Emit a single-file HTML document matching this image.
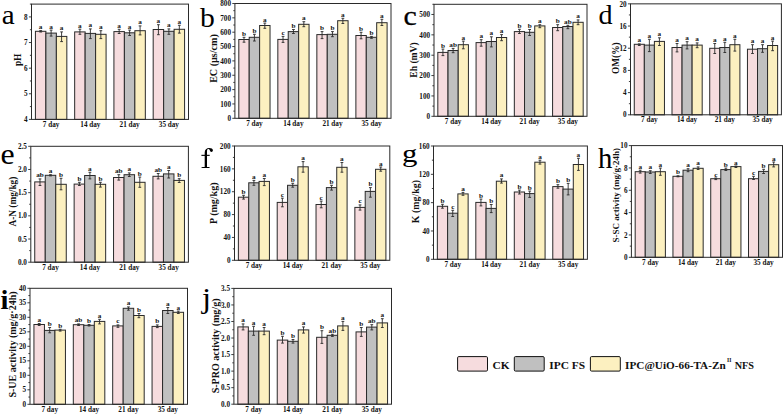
<!DOCTYPE html>
<html><head><meta charset="utf-8"><title>Soil properties bar charts</title>
<style>
*{margin:0;padding:0}
html,body{width:784px;height:415px;background:#fff;overflow:hidden}
svg{display:block;position:absolute;left:0;top:0}
text{font-family:'Liberation Serif', serif;fill:#111}
.tk{font-size:7.2px;font-weight:bold;text-anchor:end}
.xl{font-size:7.2px;font-weight:bold;text-anchor:middle}
.ti{font-size:9.6px;font-weight:bold;text-anchor:middle}
.lt{font-size:7.2px;font-weight:bold;text-anchor:middle}
.pl{font-size:100px;fill:#000}
.pl.b{font-weight:bold}
.lg{font-size:11.4px;font-weight:bold}
</style></head>
<body>
<svg width="784" height="415" viewBox="0 0 784 415">
<rect x="35.42" y="31.3" width="10.47" height="88.1" fill="#f6dcde" stroke="#2a2a2a" stroke-width="1"/>
<path d="M40.66 30.6V32M39.26 30.6h2.8M39.26 32h2.8" stroke="#2a2a2a" stroke-width="0.9" fill="none"/>
<text class="lt" transform="translate(40.66 29.1) scale(1 0.93)">a</text>
<rect x="45.89" y="33.1" width="10.47" height="86.3" fill="#c0c0c0" stroke="#2a2a2a" stroke-width="1"/>
<path d="M51.12 30.1V36.1M49.73 30.1h2.8M49.73 36.1h2.8" stroke="#2a2a2a" stroke-width="0.9" fill="none"/>
<text class="lt" transform="translate(51.12 28.6) scale(1 0.93)">a</text>
<rect x="56.36" y="36.4" width="10.47" height="83" fill="#fcf0c0" stroke="#2a2a2a" stroke-width="1"/>
<path d="M61.59 31.9V41.6M60.19 31.9h2.8M60.19 41.6h2.8" stroke="#2a2a2a" stroke-width="0.9" fill="none"/>
<text class="lt" transform="translate(61.59 30.4) scale(1 0.93)">a</text>
<text class="xl" transform="translate(51.12 126.9) scale(1 1.07)">7 day</text>
<rect x="74.67" y="31.9" width="10.47" height="87.5" fill="#f6dcde" stroke="#2a2a2a" stroke-width="1"/>
<path d="M79.91 29.2V34.3M78.51 29.2h2.8M78.51 34.3h2.8" stroke="#2a2a2a" stroke-width="0.9" fill="none"/>
<text class="lt" transform="translate(79.91 27.7) scale(1 0.93)">a</text>
<rect x="85.14" y="33.4" width="10.47" height="86" fill="#c0c0c0" stroke="#2a2a2a" stroke-width="1"/>
<path d="M90.38 28.9V38.6M88.97 28.9h2.8M88.97 38.6h2.8" stroke="#2a2a2a" stroke-width="0.9" fill="none"/>
<text class="lt" transform="translate(90.38 27.4) scale(1 0.93)">a</text>
<rect x="95.61" y="34.3" width="10.47" height="85.1" fill="#fcf0c0" stroke="#2a2a2a" stroke-width="1"/>
<path d="M100.84 30.7V38.6M99.44 30.7h2.8M99.44 38.6h2.8" stroke="#2a2a2a" stroke-width="0.9" fill="none"/>
<text class="lt" transform="translate(100.84 29.2) scale(1 0.93)">a</text>
<text class="xl" transform="translate(90.38 126.9) scale(1 1.07)">14 day</text>
<rect x="113.92" y="31.6" width="10.47" height="87.8" fill="#f6dcde" stroke="#2a2a2a" stroke-width="1"/>
<path d="M119.16 29.3V33.5M117.76 29.3h2.8M117.76 33.5h2.8" stroke="#2a2a2a" stroke-width="0.9" fill="none"/>
<text class="lt" transform="translate(119.16 27.8) scale(1 0.93)">a</text>
<rect x="124.39" y="32.8" width="10.47" height="86.6" fill="#c0c0c0" stroke="#2a2a2a" stroke-width="1"/>
<path d="M129.62 30.1V35.5M128.22 30.1h2.8M128.22 35.5h2.8" stroke="#2a2a2a" stroke-width="0.9" fill="none"/>
<text class="lt" transform="translate(129.62 28.6) scale(1 0.93)">a</text>
<rect x="134.86" y="30.7" width="10.47" height="88.7" fill="#fcf0c0" stroke="#2a2a2a" stroke-width="1"/>
<path d="M140.09 25.9V34.9M138.69 25.9h2.8M138.69 34.9h2.8" stroke="#2a2a2a" stroke-width="0.9" fill="none"/>
<text class="lt" transform="translate(140.09 24.4) scale(1 0.93)">a</text>
<text class="xl" transform="translate(129.62 126.9) scale(1 1.07)">21 day</text>
<rect x="153.18" y="29.5" width="10.47" height="89.9" fill="#f6dcde" stroke="#2a2a2a" stroke-width="1"/>
<path d="M158.41 24.7V34.7M157.01 24.7h2.8M157.01 34.7h2.8" stroke="#2a2a2a" stroke-width="0.9" fill="none"/>
<text class="lt" transform="translate(158.41 23.2) scale(1 0.93)">a</text>
<rect x="163.64" y="31.3" width="10.47" height="88.1" fill="#c0c0c0" stroke="#2a2a2a" stroke-width="1"/>
<path d="M168.88 28.9V34.3M167.47 28.9h2.8M167.47 34.3h2.8" stroke="#2a2a2a" stroke-width="0.9" fill="none"/>
<text class="lt" transform="translate(168.88 27.4) scale(1 0.93)">a</text>
<rect x="174.11" y="29.3" width="10.47" height="90.1" fill="#fcf0c0" stroke="#2a2a2a" stroke-width="1"/>
<path d="M179.34 25.3V33.1M177.94 25.3h2.8M177.94 33.1h2.8" stroke="#2a2a2a" stroke-width="0.9" fill="none"/>
<text class="lt" transform="translate(179.34 23.8) scale(1 0.93)">a</text>
<text class="xl" transform="translate(168.88 126.9) scale(1 1.07)">35 day</text>
<rect x="31.5" y="4.1" width="157" height="115.3" fill="none" stroke="#2a2a2a" stroke-width="1"/>
<path d="M28.9 119.4H31.5" stroke="#2a2a2a" stroke-width="0.9"/>
<text class="tk" transform="translate(27.6 122.05) scale(1 1.06)">4</text>
<path d="M29.9 106.59H31.5" stroke="#2a2a2a" stroke-width="0.9"/>
<path d="M28.9 93.78H31.5" stroke="#2a2a2a" stroke-width="0.9"/>
<text class="tk" transform="translate(27.6 96.43) scale(1 1.06)">5</text>
<path d="M29.9 80.97H31.5" stroke="#2a2a2a" stroke-width="0.9"/>
<path d="M28.9 68.16H31.5" stroke="#2a2a2a" stroke-width="0.9"/>
<text class="tk" transform="translate(27.6 70.81) scale(1 1.06)">6</text>
<path d="M29.9 55.34H31.5" stroke="#2a2a2a" stroke-width="0.9"/>
<path d="M28.9 42.53H31.5" stroke="#2a2a2a" stroke-width="0.9"/>
<text class="tk" transform="translate(27.6 45.18) scale(1 1.06)">7</text>
<path d="M29.9 29.72H31.5" stroke="#2a2a2a" stroke-width="0.9"/>
<path d="M28.9 16.91H31.5" stroke="#2a2a2a" stroke-width="0.9"/>
<text class="tk" transform="translate(27.6 19.56) scale(1 1.06)">8</text>
<path d="M29.9 4.1H31.5" stroke="#2a2a2a" stroke-width="0.9"/>
<text class="ti" style="font-size:9.4px" transform="translate(20.7 59.85) rotate(-90)">pH</text>
<text class="pl" transform="translate(1.68 24.23) scale(0.2911 0.2797)">a</text>
<rect x="238.8" y="39.5" width="10.41" height="78.8" fill="#f6dcde" stroke="#2a2a2a" stroke-width="1"/>
<path d="M244.01 37.3V42.2M242.61 37.3h2.8M242.61 42.2h2.8" stroke="#2a2a2a" stroke-width="0.9" fill="none"/>
<text class="lt" transform="translate(244.01 35.8) scale(1 0.93)">b</text>
<rect x="249.21" y="37.3" width="10.41" height="81" fill="#c0c0c0" stroke="#2a2a2a" stroke-width="1"/>
<path d="M254.41 34.3V41M253.01 34.3h2.8M253.01 41h2.8" stroke="#2a2a2a" stroke-width="0.9" fill="none"/>
<text class="lt" transform="translate(254.41 32.8) scale(1 0.93)">b</text>
<rect x="259.62" y="25.5" width="10.41" height="92.8" fill="#fcf0c0" stroke="#2a2a2a" stroke-width="1"/>
<path d="M264.82 23.1V28.3M263.42 23.1h2.8M263.42 28.3h2.8" stroke="#2a2a2a" stroke-width="0.9" fill="none"/>
<text class="lt" transform="translate(264.82 21.6) scale(1 0.93)">a</text>
<text class="xl" transform="translate(254.41 125.8) scale(1 1.07)">7 day</text>
<rect x="277.83" y="39.4" width="10.41" height="78.9" fill="#f6dcde" stroke="#2a2a2a" stroke-width="1"/>
<path d="M283.03 36.4V42.4M281.63 36.4h2.8M281.63 42.4h2.8" stroke="#2a2a2a" stroke-width="0.9" fill="none"/>
<text class="lt" transform="translate(283.03 34.9) scale(1 0.93)">c</text>
<rect x="288.23" y="31.6" width="10.41" height="86.7" fill="#c0c0c0" stroke="#2a2a2a" stroke-width="1"/>
<path d="M293.44 29.5V33.5M292.04 29.5h2.8M292.04 33.5h2.8" stroke="#2a2a2a" stroke-width="0.9" fill="none"/>
<text class="lt" transform="translate(293.44 28) scale(1 0.93)">b</text>
<rect x="298.64" y="24.3" width="10.41" height="94" fill="#fcf0c0" stroke="#2a2a2a" stroke-width="1"/>
<path d="M303.84 21.7V26.7M302.44 21.7h2.8M302.44 26.7h2.8" stroke="#2a2a2a" stroke-width="0.9" fill="none"/>
<text class="lt" transform="translate(303.84 20.2) scale(1 0.93)">a</text>
<text class="xl" transform="translate(293.44 125.8) scale(1 1.07)">14 day</text>
<rect x="316.85" y="34.6" width="10.41" height="83.7" fill="#f6dcde" stroke="#2a2a2a" stroke-width="1"/>
<path d="M322.06 31.6V38.6M320.66 31.6h2.8M320.66 38.6h2.8" stroke="#2a2a2a" stroke-width="0.9" fill="none"/>
<text class="lt" transform="translate(322.06 30.1) scale(1 0.93)">b</text>
<rect x="327.26" y="34.3" width="10.41" height="84" fill="#c0c0c0" stroke="#2a2a2a" stroke-width="1"/>
<path d="M332.46 31.6V36.7M331.06 31.6h2.8M331.06 36.7h2.8" stroke="#2a2a2a" stroke-width="0.9" fill="none"/>
<text class="lt" transform="translate(332.46 30.1) scale(1 0.93)">b</text>
<rect x="337.67" y="20.7" width="10.41" height="97.6" fill="#fcf0c0" stroke="#2a2a2a" stroke-width="1"/>
<path d="M342.87 18.3V23.5M341.47 18.3h2.8M341.47 23.5h2.8" stroke="#2a2a2a" stroke-width="0.9" fill="none"/>
<text class="lt" transform="translate(342.87 16.8) scale(1 0.93)">a</text>
<text class="xl" transform="translate(332.46 125.8) scale(1 1.07)">21 day</text>
<rect x="355.88" y="35.5" width="10.41" height="82.8" fill="#f6dcde" stroke="#2a2a2a" stroke-width="1"/>
<path d="M361.08 32.3V38.8M359.68 32.3h2.8M359.68 38.8h2.8" stroke="#2a2a2a" stroke-width="0.9" fill="none"/>
<text class="lt" transform="translate(361.08 30.8) scale(1 0.93)">b</text>
<rect x="366.28" y="37.3" width="10.41" height="81" fill="#c0c0c0" stroke="#2a2a2a" stroke-width="1"/>
<path d="M371.49 36.4V38.3M370.09 36.4h2.8M370.09 38.3h2.8" stroke="#2a2a2a" stroke-width="0.9" fill="none"/>
<text class="lt" transform="translate(371.49 34.9) scale(1 0.93)">b</text>
<rect x="376.69" y="22.7" width="10.41" height="95.6" fill="#fcf0c0" stroke="#2a2a2a" stroke-width="1"/>
<path d="M381.89 19.3V25.5M380.49 19.3h2.8M380.49 25.5h2.8" stroke="#2a2a2a" stroke-width="0.9" fill="none"/>
<text class="lt" transform="translate(381.89 17.8) scale(1 0.93)">a</text>
<text class="xl" transform="translate(371.49 125.8) scale(1 1.07)">35 day</text>
<rect x="234.9" y="3.5" width="156.1" height="114.8" fill="none" stroke="#2a2a2a" stroke-width="1"/>
<path d="M232.3 118.3H234.9" stroke="#2a2a2a" stroke-width="0.9"/>
<text class="tk" transform="translate(231 120.95) scale(1 1.06)">0</text>
<path d="M233.3 111.12H234.9" stroke="#2a2a2a" stroke-width="0.9"/>
<path d="M232.3 103.95H234.9" stroke="#2a2a2a" stroke-width="0.9"/>
<text class="tk" transform="translate(231 106.6) scale(1 1.06)">100</text>
<path d="M233.3 96.78H234.9" stroke="#2a2a2a" stroke-width="0.9"/>
<path d="M232.3 89.6H234.9" stroke="#2a2a2a" stroke-width="0.9"/>
<text class="tk" transform="translate(231 92.25) scale(1 1.06)">200</text>
<path d="M233.3 82.42H234.9" stroke="#2a2a2a" stroke-width="0.9"/>
<path d="M232.3 75.25H234.9" stroke="#2a2a2a" stroke-width="0.9"/>
<text class="tk" transform="translate(231 77.9) scale(1 1.06)">300</text>
<path d="M233.3 68.07H234.9" stroke="#2a2a2a" stroke-width="0.9"/>
<path d="M232.3 60.9H234.9" stroke="#2a2a2a" stroke-width="0.9"/>
<text class="tk" transform="translate(231 63.55) scale(1 1.06)">400</text>
<path d="M233.3 53.72H234.9" stroke="#2a2a2a" stroke-width="0.9"/>
<path d="M232.3 46.55H234.9" stroke="#2a2a2a" stroke-width="0.9"/>
<text class="tk" transform="translate(231 49.2) scale(1 1.06)">500</text>
<path d="M233.3 39.38H234.9" stroke="#2a2a2a" stroke-width="0.9"/>
<path d="M232.3 32.2H234.9" stroke="#2a2a2a" stroke-width="0.9"/>
<text class="tk" transform="translate(231 34.85) scale(1 1.06)">600</text>
<path d="M233.3 25.03H234.9" stroke="#2a2a2a" stroke-width="0.9"/>
<path d="M232.3 17.85H234.9" stroke="#2a2a2a" stroke-width="0.9"/>
<text class="tk" transform="translate(231 20.5) scale(1 1.06)">700</text>
<path d="M233.3 10.67H234.9" stroke="#2a2a2a" stroke-width="0.9"/>
<path d="M232.3 3.5H234.9" stroke="#2a2a2a" stroke-width="0.9"/>
<text class="tk" transform="translate(231 6.15) scale(1 1.06)">800</text>
<text class="ti" style="font-size:10.1px" transform="translate(217.1 58.5) rotate(-90)">EC (µs/cm)</text>
<text class="pl" transform="translate(200.00 26.63) scale(0.2966 0.2715)">b</text>
<rect x="437.82" y="52.4" width="10.2" height="63.9" fill="#f6dcde" stroke="#2a2a2a" stroke-width="1"/>
<path d="M442.93 49.1V55.6M441.53 49.1h2.8M441.53 55.6h2.8" stroke="#2a2a2a" stroke-width="0.9" fill="none"/>
<text class="lt" transform="translate(442.93 47.6) scale(1 0.93)">b</text>
<rect x="448.02" y="50.5" width="10.2" height="65.8" fill="#c0c0c0" stroke="#2a2a2a" stroke-width="1"/>
<path d="M453.12 48.4V52.7M451.73 48.4h2.8M451.73 52.7h2.8" stroke="#2a2a2a" stroke-width="0.9" fill="none"/>
<text class="lt" transform="translate(453.12 46.9) scale(1 0.93)">ab</text>
<rect x="458.22" y="44.7" width="10.2" height="71.6" fill="#fcf0c0" stroke="#2a2a2a" stroke-width="1"/>
<path d="M463.32 41.1V48.8M461.93 41.1h2.8M461.93 48.8h2.8" stroke="#2a2a2a" stroke-width="0.9" fill="none"/>
<text class="lt" transform="translate(463.32 39.6) scale(1 0.93)">a</text>
<text class="xl" transform="translate(453.12 123.8) scale(1 1.07)">7 day</text>
<rect x="476.07" y="42.6" width="10.2" height="73.7" fill="#f6dcde" stroke="#2a2a2a" stroke-width="1"/>
<path d="M481.18 39.7V46.2M479.78 39.7h2.8M479.78 46.2h2.8" stroke="#2a2a2a" stroke-width="0.9" fill="none"/>
<text class="lt" transform="translate(481.18 38.2) scale(1 0.93)">a</text>
<rect x="486.27" y="41.5" width="10.2" height="74.8" fill="#c0c0c0" stroke="#2a2a2a" stroke-width="1"/>
<path d="M491.38 36.8V46.9M489.98 36.8h2.8M489.98 46.9h2.8" stroke="#2a2a2a" stroke-width="0.9" fill="none"/>
<text class="lt" transform="translate(491.38 35.3) scale(1 0.93)">a</text>
<rect x="496.47" y="37.5" width="10.2" height="78.8" fill="#fcf0c0" stroke="#2a2a2a" stroke-width="1"/>
<path d="M501.57 34.6V40.7M500.18 34.6h2.8M500.18 40.7h2.8" stroke="#2a2a2a" stroke-width="0.9" fill="none"/>
<text class="lt" transform="translate(501.57 33.1) scale(1 0.93)">a</text>
<text class="xl" transform="translate(491.38 123.8) scale(1 1.07)">14 day</text>
<rect x="514.33" y="31.6" width="10.2" height="84.7" fill="#f6dcde" stroke="#2a2a2a" stroke-width="1"/>
<path d="M519.43 29.3V33.5M518.03 29.3h2.8M518.03 33.5h2.8" stroke="#2a2a2a" stroke-width="0.9" fill="none"/>
<text class="lt" transform="translate(519.43 27.8) scale(1 0.93)">b</text>
<rect x="524.53" y="32.3" width="10.2" height="84" fill="#c0c0c0" stroke="#2a2a2a" stroke-width="1"/>
<path d="M529.63 29.5V35.5M528.23 29.5h2.8M528.23 35.5h2.8" stroke="#2a2a2a" stroke-width="0.9" fill="none"/>
<text class="lt" transform="translate(529.63 28) scale(1 0.93)">b</text>
<rect x="534.73" y="25.9" width="10.2" height="90.4" fill="#fcf0c0" stroke="#2a2a2a" stroke-width="1"/>
<path d="M539.83 24.7V27.7M538.43 24.7h2.8M538.43 27.7h2.8" stroke="#2a2a2a" stroke-width="0.9" fill="none"/>
<text class="lt" transform="translate(539.83 23.2) scale(1 0.93)">a</text>
<text class="xl" transform="translate(529.62 123.8) scale(1 1.07)">21 day</text>
<rect x="552.58" y="27.5" width="10.2" height="88.8" fill="#f6dcde" stroke="#2a2a2a" stroke-width="1"/>
<path d="M557.68 24.7V30.7M556.28 24.7h2.8M556.28 30.7h2.8" stroke="#2a2a2a" stroke-width="0.9" fill="none"/>
<text class="lt" transform="translate(557.68 23.2) scale(1 0.93)">b</text>
<rect x="562.78" y="26.5" width="10.2" height="89.8" fill="#c0c0c0" stroke="#2a2a2a" stroke-width="1"/>
<path d="M567.88 25.3V28.7M566.48 25.3h2.8M566.48 28.7h2.8" stroke="#2a2a2a" stroke-width="0.9" fill="none"/>
<text class="lt" transform="translate(567.88 23.8) scale(1 0.93)">ab</text>
<rect x="572.98" y="22.3" width="10.2" height="94" fill="#fcf0c0" stroke="#2a2a2a" stroke-width="1"/>
<path d="M578.08 19.9V24.7M576.68 19.9h2.8M576.68 24.7h2.8" stroke="#2a2a2a" stroke-width="0.9" fill="none"/>
<text class="lt" transform="translate(578.08 18.4) scale(1 0.93)">a</text>
<text class="xl" transform="translate(567.88 123.8) scale(1 1.07)">35 day</text>
<rect x="434" y="4.3" width="153" height="112" fill="none" stroke="#2a2a2a" stroke-width="1"/>
<path d="M431.4 116.3H434" stroke="#2a2a2a" stroke-width="0.9"/>
<text class="tk" transform="translate(430.1 118.95) scale(1 1.06)">0</text>
<path d="M432.4 106.12H434" stroke="#2a2a2a" stroke-width="0.9"/>
<path d="M431.4 95.94H434" stroke="#2a2a2a" stroke-width="0.9"/>
<text class="tk" transform="translate(430.1 98.59) scale(1 1.06)">100</text>
<path d="M432.4 85.75H434" stroke="#2a2a2a" stroke-width="0.9"/>
<path d="M431.4 75.57H434" stroke="#2a2a2a" stroke-width="0.9"/>
<text class="tk" transform="translate(430.1 78.22) scale(1 1.06)">200</text>
<path d="M432.4 65.39H434" stroke="#2a2a2a" stroke-width="0.9"/>
<path d="M431.4 55.21H434" stroke="#2a2a2a" stroke-width="0.9"/>
<text class="tk" transform="translate(430.1 57.86) scale(1 1.06)">300</text>
<path d="M432.4 45.03H434" stroke="#2a2a2a" stroke-width="0.9"/>
<path d="M431.4 34.85H434" stroke="#2a2a2a" stroke-width="0.9"/>
<text class="tk" transform="translate(430.1 37.5) scale(1 1.06)">400</text>
<path d="M432.4 24.66H434" stroke="#2a2a2a" stroke-width="0.9"/>
<path d="M431.4 14.48H434" stroke="#2a2a2a" stroke-width="0.9"/>
<text class="tk" transform="translate(430.1 17.13) scale(1 1.06)">500</text>
<path d="M432.4 4.3H434" stroke="#2a2a2a" stroke-width="0.9"/>
<text class="ti" style="font-size:9.6px" transform="translate(417 60) rotate(-90)">Eh (mV)</text>
<text class="pl" stroke="#000" stroke-width="1.0" transform="translate(403.56 25.43) scale(0.2987 0.2786)">c</text>
<rect x="634.27" y="44.3" width="10.06" height="70.5" fill="#f6dcde" stroke="#2a2a2a" stroke-width="1"/>
<path d="M639.3 43.9V45.5M637.9 43.9h2.8M637.9 45.5h2.8" stroke="#2a2a2a" stroke-width="0.9" fill="none"/>
<text class="lt" transform="translate(639.3 42.4) scale(1 0.93)">a</text>
<rect x="644.33" y="45.1" width="10.06" height="69.7" fill="#c0c0c0" stroke="#2a2a2a" stroke-width="1"/>
<path d="M649.36 39.3V51.6M647.96 39.3h2.8M647.96 51.6h2.8" stroke="#2a2a2a" stroke-width="0.9" fill="none"/>
<text class="lt" transform="translate(649.36 37.8) scale(1 0.93)">a</text>
<rect x="654.39" y="41.4" width="10.06" height="73.4" fill="#fcf0c0" stroke="#2a2a2a" stroke-width="1"/>
<path d="M659.42 37.8V45.5M658.02 37.8h2.8M658.02 45.5h2.8" stroke="#2a2a2a" stroke-width="0.9" fill="none"/>
<text class="lt" transform="translate(659.42 36.3) scale(1 0.93)">a</text>
<text class="xl" transform="translate(649.36 122.3) scale(1 1.07)">7 day</text>
<rect x="672" y="47.5" width="10.06" height="67.3" fill="#f6dcde" stroke="#2a2a2a" stroke-width="1"/>
<path d="M677.03 43.5V51.9M675.63 43.5h2.8M675.63 51.9h2.8" stroke="#2a2a2a" stroke-width="0.9" fill="none"/>
<text class="lt" transform="translate(677.03 42) scale(1 0.93)">a</text>
<rect x="682.06" y="45.1" width="10.06" height="69.7" fill="#c0c0c0" stroke="#2a2a2a" stroke-width="1"/>
<path d="M687.09 41.7V48.9M685.69 41.7h2.8M685.69 48.9h2.8" stroke="#2a2a2a" stroke-width="0.9" fill="none"/>
<text class="lt" transform="translate(687.09 40.2) scale(1 0.93)">a</text>
<rect x="692.12" y="45.1" width="10.06" height="69.7" fill="#fcf0c0" stroke="#2a2a2a" stroke-width="1"/>
<path d="M697.15 42.9V47.7M695.75 42.9h2.8M695.75 47.7h2.8" stroke="#2a2a2a" stroke-width="0.9" fill="none"/>
<text class="lt" transform="translate(697.15 41.4) scale(1 0.93)">a</text>
<text class="xl" transform="translate(687.09 122.3) scale(1 1.07)">14 day</text>
<rect x="709.72" y="48.3" width="10.06" height="66.5" fill="#f6dcde" stroke="#2a2a2a" stroke-width="1"/>
<path d="M714.75 43.5V53.5M713.35 43.5h2.8M713.35 53.5h2.8" stroke="#2a2a2a" stroke-width="0.9" fill="none"/>
<text class="lt" transform="translate(714.75 42) scale(1 0.93)">a</text>
<rect x="719.78" y="47.5" width="10.06" height="67.3" fill="#c0c0c0" stroke="#2a2a2a" stroke-width="1"/>
<path d="M724.81 42.3V52.5M723.41 42.3h2.8M723.41 52.5h2.8" stroke="#2a2a2a" stroke-width="0.9" fill="none"/>
<text class="lt" transform="translate(724.81 40.8) scale(1 0.93)">a</text>
<rect x="729.84" y="44.7" width="10.06" height="70.1" fill="#fcf0c0" stroke="#2a2a2a" stroke-width="1"/>
<path d="M734.87 39.3V51.1M733.47 39.3h2.8M733.47 51.1h2.8" stroke="#2a2a2a" stroke-width="0.9" fill="none"/>
<text class="lt" transform="translate(734.87 37.8) scale(1 0.93)">a</text>
<text class="xl" transform="translate(724.81 122.3) scale(1 1.07)">21 day</text>
<rect x="747.45" y="49.2" width="10.06" height="65.6" fill="#f6dcde" stroke="#2a2a2a" stroke-width="1"/>
<path d="M752.48 44.7V53.5M751.08 44.7h2.8M751.08 53.5h2.8" stroke="#2a2a2a" stroke-width="0.9" fill="none"/>
<text class="lt" transform="translate(752.48 43.2) scale(1 0.93)">a</text>
<rect x="757.51" y="48.7" width="10.06" height="66.1" fill="#c0c0c0" stroke="#2a2a2a" stroke-width="1"/>
<path d="M762.54 44.7V52.3M761.14 44.7h2.8M761.14 52.3h2.8" stroke="#2a2a2a" stroke-width="0.9" fill="none"/>
<text class="lt" transform="translate(762.54 43.2) scale(1 0.93)">a</text>
<rect x="767.57" y="45.5" width="10.06" height="69.3" fill="#fcf0c0" stroke="#2a2a2a" stroke-width="1"/>
<path d="M772.6 41.1V50.7M771.2 41.1h2.8M771.2 50.7h2.8" stroke="#2a2a2a" stroke-width="0.9" fill="none"/>
<text class="lt" transform="translate(772.6 39.6) scale(1 0.93)">a</text>
<text class="xl" transform="translate(762.54 122.3) scale(1 1.07)">35 day</text>
<rect x="630.5" y="3.85" width="150.9" height="110.95" fill="none" stroke="#2a2a2a" stroke-width="1"/>
<path d="M627.9 114.8H630.5" stroke="#2a2a2a" stroke-width="0.9"/>
<text class="tk" transform="translate(626.6 117.45) scale(1 1.06)">0</text>
<path d="M628.9 103.7H630.5" stroke="#2a2a2a" stroke-width="0.9"/>
<path d="M627.9 92.61H630.5" stroke="#2a2a2a" stroke-width="0.9"/>
<text class="tk" transform="translate(626.6 95.26) scale(1 1.06)">4</text>
<path d="M628.9 81.52H630.5" stroke="#2a2a2a" stroke-width="0.9"/>
<path d="M627.9 70.42H630.5" stroke="#2a2a2a" stroke-width="0.9"/>
<text class="tk" transform="translate(626.6 73.07) scale(1 1.06)">8</text>
<path d="M628.9 59.32H630.5" stroke="#2a2a2a" stroke-width="0.9"/>
<path d="M627.9 48.23H630.5" stroke="#2a2a2a" stroke-width="0.9"/>
<text class="tk" transform="translate(626.6 50.88) scale(1 1.06)">12</text>
<path d="M628.9 37.14H630.5" stroke="#2a2a2a" stroke-width="0.9"/>
<path d="M627.9 26.04H630.5" stroke="#2a2a2a" stroke-width="0.9"/>
<text class="tk" transform="translate(626.6 28.69) scale(1 1.06)">16</text>
<path d="M628.9 14.94H630.5" stroke="#2a2a2a" stroke-width="0.9"/>
<path d="M627.9 3.85H630.5" stroke="#2a2a2a" stroke-width="0.9"/>
<text class="tk" transform="translate(626.6 6.5) scale(1 1.06)">20</text>
<text class="ti" style="font-size:9.4px" transform="translate(618.5 58.2) rotate(-90)">OM(%)</text>
<text class="pl" transform="translate(598.58 23.93) scale(0.2812 0.2715)">d</text>
<rect x="34.74" y="181.9" width="10.51" height="80.3" fill="#f6dcde" stroke="#2a2a2a" stroke-width="1"/>
<path d="M39.99 178.9V185.5M38.59 178.9h2.8M38.59 185.5h2.8" stroke="#2a2a2a" stroke-width="0.9" fill="none"/>
<text class="lt" transform="translate(39.99 177.4) scale(1 0.93)">ab</text>
<rect x="45.25" y="175.3" width="10.51" height="86.9" fill="#c0c0c0" stroke="#2a2a2a" stroke-width="1"/>
<path d="M50.5 174.7V175.9M49.1 174.7h2.8M49.1 175.9h2.8" stroke="#2a2a2a" stroke-width="0.9" fill="none"/>
<text class="lt" transform="translate(50.5 173.2) scale(1 0.93)">a</text>
<rect x="55.75" y="184.3" width="10.51" height="77.9" fill="#fcf0c0" stroke="#2a2a2a" stroke-width="1"/>
<path d="M61.01 178.3V189.8M59.61 178.3h2.8M59.61 189.8h2.8" stroke="#2a2a2a" stroke-width="0.9" fill="none"/>
<text class="lt" transform="translate(61.01 176.8) scale(1 0.93)">b</text>
<text class="xl" transform="translate(50.5 269.7) scale(1 1.07)">7 day</text>
<rect x="74.14" y="184.1" width="10.51" height="78.1" fill="#f6dcde" stroke="#2a2a2a" stroke-width="1"/>
<path d="M79.39 182.3V185.5M77.99 182.3h2.8M77.99 185.5h2.8" stroke="#2a2a2a" stroke-width="0.9" fill="none"/>
<text class="lt" transform="translate(79.39 180.8) scale(1 0.93)">b</text>
<rect x="84.65" y="175.5" width="10.51" height="86.7" fill="#c0c0c0" stroke="#2a2a2a" stroke-width="1"/>
<path d="M89.9 172.3V178.9M88.5 172.3h2.8M88.5 178.9h2.8" stroke="#2a2a2a" stroke-width="0.9" fill="none"/>
<text class="lt" transform="translate(89.9 170.8) scale(1 0.93)">a</text>
<rect x="95.15" y="184.3" width="10.51" height="77.9" fill="#fcf0c0" stroke="#2a2a2a" stroke-width="1"/>
<path d="M100.41 182.3V187.1M99.01 182.3h2.8M99.01 187.1h2.8" stroke="#2a2a2a" stroke-width="0.9" fill="none"/>
<text class="lt" transform="translate(100.41 180.8) scale(1 0.93)">b</text>
<text class="xl" transform="translate(89.9 269.7) scale(1 1.07)">14 day</text>
<rect x="113.54" y="177.5" width="10.51" height="84.7" fill="#f6dcde" stroke="#2a2a2a" stroke-width="1"/>
<path d="M118.79 174.7V180.1M117.39 174.7h2.8M117.39 180.1h2.8" stroke="#2a2a2a" stroke-width="0.9" fill="none"/>
<text class="lt" transform="translate(118.79 173.2) scale(1 0.93)">ab</text>
<rect x="124.05" y="174.7" width="10.51" height="87.5" fill="#c0c0c0" stroke="#2a2a2a" stroke-width="1"/>
<path d="M129.3 172.9V176.5M127.9 172.9h2.8M127.9 176.5h2.8" stroke="#2a2a2a" stroke-width="0.9" fill="none"/>
<text class="lt" transform="translate(129.3 171.4) scale(1 0.93)">a</text>
<rect x="134.55" y="182.3" width="10.51" height="79.9" fill="#fcf0c0" stroke="#2a2a2a" stroke-width="1"/>
<path d="M139.81 177.1V187.3M138.41 177.1h2.8M138.41 187.3h2.8" stroke="#2a2a2a" stroke-width="0.9" fill="none"/>
<text class="lt" transform="translate(139.81 175.6) scale(1 0.93)">b</text>
<text class="xl" transform="translate(129.3 269.7) scale(1 1.07)">21 day</text>
<rect x="152.94" y="176.3" width="10.51" height="85.9" fill="#f6dcde" stroke="#2a2a2a" stroke-width="1"/>
<path d="M158.19 173.5V178.9M156.79 173.5h2.8M156.79 178.9h2.8" stroke="#2a2a2a" stroke-width="0.9" fill="none"/>
<text class="lt" transform="translate(158.19 172) scale(1 0.93)">ab</text>
<rect x="163.45" y="173.9" width="10.51" height="88.3" fill="#c0c0c0" stroke="#2a2a2a" stroke-width="1"/>
<path d="M168.7 170.5V178M167.3 170.5h2.8M167.3 178h2.8" stroke="#2a2a2a" stroke-width="0.9" fill="none"/>
<text class="lt" transform="translate(168.7 169) scale(1 0.93)">a</text>
<rect x="173.95" y="180.4" width="10.51" height="81.8" fill="#fcf0c0" stroke="#2a2a2a" stroke-width="1"/>
<path d="M179.21 178.7V182.5M177.81 178.7h2.8M177.81 182.5h2.8" stroke="#2a2a2a" stroke-width="0.9" fill="none"/>
<text class="lt" transform="translate(179.21 177.2) scale(1 0.93)">b</text>
<text class="xl" transform="translate(168.7 269.7) scale(1 1.07)">35 day</text>
<rect x="30.8" y="146.3" width="157.6" height="115.9" fill="none" stroke="#2a2a2a" stroke-width="1"/>
<path d="M28.2 262.2H30.8" stroke="#2a2a2a" stroke-width="0.9"/>
<text class="tk" transform="translate(26.9 264.85) scale(1 1.06)">0.0</text>
<path d="M29.2 250.61H30.8" stroke="#2a2a2a" stroke-width="0.9"/>
<path d="M28.2 239.02H30.8" stroke="#2a2a2a" stroke-width="0.9"/>
<text class="tk" transform="translate(26.9 241.67) scale(1 1.06)">0.5</text>
<path d="M29.2 227.43H30.8" stroke="#2a2a2a" stroke-width="0.9"/>
<path d="M28.2 215.84H30.8" stroke="#2a2a2a" stroke-width="0.9"/>
<text class="tk" transform="translate(26.9 218.49) scale(1 1.06)">1.0</text>
<path d="M29.2 204.25H30.8" stroke="#2a2a2a" stroke-width="0.9"/>
<path d="M28.2 192.66H30.8" stroke="#2a2a2a" stroke-width="0.9"/>
<text class="tk" transform="translate(26.9 195.31) scale(1 1.06)">1.5</text>
<path d="M29.2 181.07H30.8" stroke="#2a2a2a" stroke-width="0.9"/>
<path d="M28.2 169.48H30.8" stroke="#2a2a2a" stroke-width="0.9"/>
<text class="tk" transform="translate(26.9 172.13) scale(1 1.06)">2.0</text>
<path d="M29.2 157.89H30.8" stroke="#2a2a2a" stroke-width="0.9"/>
<path d="M28.2 146.3H30.8" stroke="#2a2a2a" stroke-width="0.9"/>
<text class="tk" transform="translate(26.9 148.95) scale(1 1.06)">2.5</text>
<text class="ti" style="font-size:9.3px" transform="translate(16.1 201.6) rotate(-90)">A-N (mg/kg)</text>
<text class="pl" transform="translate(0.45 163.71) scale(0.3188 0.2973)">e</text>
<rect x="238.38" y="197.2" width="10.35" height="63.1" fill="#f6dcde" stroke="#2a2a2a" stroke-width="1"/>
<path d="M243.56 195.3V199.1M242.16 195.3h2.8M242.16 199.1h2.8" stroke="#2a2a2a" stroke-width="0.9" fill="none"/>
<text class="lt" transform="translate(243.56 193.8) scale(1 0.93)">b</text>
<rect x="248.74" y="182.8" width="10.35" height="77.5" fill="#c0c0c0" stroke="#2a2a2a" stroke-width="1"/>
<path d="M253.91 180.4V185.3M252.51 180.4h2.8M252.51 185.3h2.8" stroke="#2a2a2a" stroke-width="0.9" fill="none"/>
<text class="lt" transform="translate(253.91 178.9) scale(1 0.93)">a</text>
<rect x="259.09" y="181.4" width="10.35" height="78.9" fill="#fcf0c0" stroke="#2a2a2a" stroke-width="1"/>
<path d="M264.27 178.5V185.6M262.87 178.5h2.8M262.87 185.6h2.8" stroke="#2a2a2a" stroke-width="0.9" fill="none"/>
<text class="lt" transform="translate(264.27 177) scale(1 0.93)">a</text>
<text class="xl" transform="translate(253.91 267.8) scale(1 1.07)">7 day</text>
<rect x="277.21" y="202.4" width="10.35" height="57.9" fill="#f6dcde" stroke="#2a2a2a" stroke-width="1"/>
<path d="M282.38 198.2V206.8M280.98 198.2h2.8M280.98 206.8h2.8" stroke="#2a2a2a" stroke-width="0.9" fill="none"/>
<text class="lt" transform="translate(282.38 196.7) scale(1 0.93)">c</text>
<rect x="287.56" y="185.3" width="10.35" height="75" fill="#c0c0c0" stroke="#2a2a2a" stroke-width="1"/>
<path d="M292.74 183.3V187.2M291.34 183.3h2.8M291.34 187.2h2.8" stroke="#2a2a2a" stroke-width="0.9" fill="none"/>
<text class="lt" transform="translate(292.74 181.8) scale(1 0.93)">b</text>
<rect x="297.91" y="166.8" width="10.35" height="93.5" fill="#fcf0c0" stroke="#2a2a2a" stroke-width="1"/>
<path d="M303.09 161.6V172.2M301.69 161.6h2.8M301.69 172.2h2.8" stroke="#2a2a2a" stroke-width="0.9" fill="none"/>
<text class="lt" transform="translate(303.09 160.1) scale(1 0.93)">a</text>
<text class="xl" transform="translate(292.74 267.8) scale(1 1.07)">14 day</text>
<rect x="316.03" y="204.5" width="10.35" height="55.8" fill="#f6dcde" stroke="#2a2a2a" stroke-width="1"/>
<path d="M321.21 201.1V207.8M319.81 201.1h2.8M319.81 207.8h2.8" stroke="#2a2a2a" stroke-width="0.9" fill="none"/>
<text class="lt" transform="translate(321.21 199.6) scale(1 0.93)">c</text>
<rect x="326.39" y="187.6" width="10.35" height="72.7" fill="#c0c0c0" stroke="#2a2a2a" stroke-width="1"/>
<path d="M331.56 185.3V190.1M330.16 185.3h2.8M330.16 190.1h2.8" stroke="#2a2a2a" stroke-width="0.9" fill="none"/>
<text class="lt" transform="translate(331.56 183.8) scale(1 0.93)">b</text>
<rect x="336.74" y="167.3" width="10.35" height="93" fill="#fcf0c0" stroke="#2a2a2a" stroke-width="1"/>
<path d="M341.92 162.5V172.2M340.52 162.5h2.8M340.52 172.2h2.8" stroke="#2a2a2a" stroke-width="0.9" fill="none"/>
<text class="lt" transform="translate(341.92 161) scale(1 0.93)">a</text>
<text class="xl" transform="translate(331.56 267.8) scale(1 1.07)">21 day</text>
<rect x="354.86" y="207.4" width="10.35" height="52.9" fill="#f6dcde" stroke="#2a2a2a" stroke-width="1"/>
<path d="M360.03 204.9V210.1M358.63 204.9h2.8M358.63 210.1h2.8" stroke="#2a2a2a" stroke-width="0.9" fill="none"/>
<text class="lt" transform="translate(360.03 203.4) scale(1 0.93)">c</text>
<rect x="365.21" y="191.4" width="10.35" height="68.9" fill="#c0c0c0" stroke="#2a2a2a" stroke-width="1"/>
<path d="M370.39 187.6V197.2M368.99 187.6h2.8M368.99 197.2h2.8" stroke="#2a2a2a" stroke-width="0.9" fill="none"/>
<text class="lt" transform="translate(370.39 186.1) scale(1 0.93)">b</text>
<rect x="375.56" y="169.3" width="10.35" height="91" fill="#fcf0c0" stroke="#2a2a2a" stroke-width="1"/>
<path d="M380.74 167V171.2M379.34 167h2.8M379.34 171.2h2.8" stroke="#2a2a2a" stroke-width="0.9" fill="none"/>
<text class="lt" transform="translate(380.74 165.5) scale(1 0.93)">a</text>
<text class="xl" transform="translate(370.39 267.8) scale(1 1.07)">35 day</text>
<rect x="234.5" y="146" width="155.3" height="114.3" fill="none" stroke="#2a2a2a" stroke-width="1"/>
<path d="M231.9 260.3H234.5" stroke="#2a2a2a" stroke-width="0.9"/>
<text class="tk" transform="translate(230.6 262.95) scale(1 1.06)">0</text>
<path d="M232.9 248.87H234.5" stroke="#2a2a2a" stroke-width="0.9"/>
<path d="M231.9 237.44H234.5" stroke="#2a2a2a" stroke-width="0.9"/>
<text class="tk" transform="translate(230.6 240.09) scale(1 1.06)">40</text>
<path d="M232.9 226.01H234.5" stroke="#2a2a2a" stroke-width="0.9"/>
<path d="M231.9 214.58H234.5" stroke="#2a2a2a" stroke-width="0.9"/>
<text class="tk" transform="translate(230.6 217.23) scale(1 1.06)">80</text>
<path d="M232.9 203.15H234.5" stroke="#2a2a2a" stroke-width="0.9"/>
<path d="M231.9 191.72H234.5" stroke="#2a2a2a" stroke-width="0.9"/>
<text class="tk" transform="translate(230.6 194.37) scale(1 1.06)">120</text>
<path d="M232.9 180.29H234.5" stroke="#2a2a2a" stroke-width="0.9"/>
<path d="M231.9 168.86H234.5" stroke="#2a2a2a" stroke-width="0.9"/>
<text class="tk" transform="translate(230.6 171.51) scale(1 1.06)">160</text>
<path d="M232.9 157.43H234.5" stroke="#2a2a2a" stroke-width="0.9"/>
<path d="M231.9 146H234.5" stroke="#2a2a2a" stroke-width="0.9"/>
<text class="tk" transform="translate(230.6 148.65) scale(1 1.06)">200</text>
<text class="ti" style="font-size:10px" transform="translate(217.4 203.2) rotate(-90)">P (mg/kg)</text>
<g fill="#000" stroke="none"><path d="M204.7 167.2V152.6C204.7 149.6 206.6 148.1 209.3 148.1C211.2 148.1 212.9 148.9 212.9 150.3C212.9 151.3 212.2 151.9 211.4 151.9C210.6 151.9 210.1 151.3 209.9 150.6C209.6 149.6 209.0 149.1 208.2 149.1C207.2 149.1 207.0 150.2 207.0 152.0V167.2Z"/><rect x="201.4" y="154.8" width="8.3" height="1.1"/><path d="M201.4 168V167.4L202.6 167.0H209.0L209.7 167.4V168Z"/></g>
<rect x="437.35" y="206.3" width="10.26" height="53" fill="#f6dcde" stroke="#2a2a2a" stroke-width="1"/>
<path d="M442.48 204.3V208.2M441.08 204.3h2.8M441.08 208.2h2.8" stroke="#2a2a2a" stroke-width="0.9" fill="none"/>
<text class="lt" transform="translate(442.48 202.8) scale(1 0.93)">b</text>
<rect x="447.61" y="213.2" width="10.26" height="46.1" fill="#c0c0c0" stroke="#2a2a2a" stroke-width="1"/>
<path d="M452.74 210.3V216.5M451.34 210.3h2.8M451.34 216.5h2.8" stroke="#2a2a2a" stroke-width="0.9" fill="none"/>
<text class="lt" transform="translate(452.74 208.8) scale(1 0.93)">c</text>
<rect x="457.87" y="193.9" width="10.26" height="65.4" fill="#fcf0c0" stroke="#2a2a2a" stroke-width="1"/>
<path d="M463 192.4V195.3M461.6 192.4h2.8M461.6 195.3h2.8" stroke="#2a2a2a" stroke-width="0.9" fill="none"/>
<text class="lt" transform="translate(463 190.9) scale(1 0.93)">a</text>
<text class="xl" transform="translate(452.74 266.8) scale(1 1.07)">7 day</text>
<rect x="475.82" y="202.4" width="10.26" height="56.9" fill="#f6dcde" stroke="#2a2a2a" stroke-width="1"/>
<path d="M480.95 199.1V205.9M479.55 199.1h2.8M479.55 205.9h2.8" stroke="#2a2a2a" stroke-width="0.9" fill="none"/>
<text class="lt" transform="translate(480.95 197.6) scale(1 0.93)">b</text>
<rect x="486.08" y="208.4" width="10.26" height="50.9" fill="#c0c0c0" stroke="#2a2a2a" stroke-width="1"/>
<path d="M491.21 204.5V212.6M489.81 204.5h2.8M489.81 212.6h2.8" stroke="#2a2a2a" stroke-width="0.9" fill="none"/>
<text class="lt" transform="translate(491.21 203) scale(1 0.93)">b</text>
<rect x="496.34" y="181.2" width="10.26" height="78.1" fill="#fcf0c0" stroke="#2a2a2a" stroke-width="1"/>
<path d="M501.47 178.9V183.1M500.07 178.9h2.8M500.07 183.1h2.8" stroke="#2a2a2a" stroke-width="0.9" fill="none"/>
<text class="lt" transform="translate(501.47 177.4) scale(1 0.93)">a</text>
<text class="xl" transform="translate(491.21 266.8) scale(1 1.07)">14 day</text>
<rect x="514.3" y="192" width="10.26" height="67.3" fill="#f6dcde" stroke="#2a2a2a" stroke-width="1"/>
<path d="M519.43 190.1V194M518.03 190.1h2.8M518.03 194h2.8" stroke="#2a2a2a" stroke-width="0.9" fill="none"/>
<text class="lt" transform="translate(519.43 188.6) scale(1 0.93)">b</text>
<rect x="524.56" y="193.6" width="10.26" height="65.7" fill="#c0c0c0" stroke="#2a2a2a" stroke-width="1"/>
<path d="M529.69 191.1V197.4M528.29 191.1h2.8M528.29 197.4h2.8" stroke="#2a2a2a" stroke-width="0.9" fill="none"/>
<text class="lt" transform="translate(529.69 189.6) scale(1 0.93)">b</text>
<rect x="534.82" y="162.2" width="10.26" height="97.1" fill="#fcf0c0" stroke="#2a2a2a" stroke-width="1"/>
<path d="M539.95 160.2V164.1M538.55 160.2h2.8M538.55 164.1h2.8" stroke="#2a2a2a" stroke-width="0.9" fill="none"/>
<text class="lt" transform="translate(539.95 158.7) scale(1 0.93)">a</text>
<text class="xl" transform="translate(529.69 266.8) scale(1 1.07)">21 day</text>
<rect x="552.77" y="186.6" width="10.26" height="72.7" fill="#f6dcde" stroke="#2a2a2a" stroke-width="1"/>
<path d="M557.9 184.7V188.2M556.5 184.7h2.8M556.5 188.2h2.8" stroke="#2a2a2a" stroke-width="0.9" fill="none"/>
<text class="lt" transform="translate(557.9 183.2) scale(1 0.93)">b</text>
<rect x="563.03" y="189.1" width="10.26" height="70.2" fill="#c0c0c0" stroke="#2a2a2a" stroke-width="1"/>
<path d="M568.16 183.4V194.9M566.76 183.4h2.8M566.76 194.9h2.8" stroke="#2a2a2a" stroke-width="0.9" fill="none"/>
<text class="lt" transform="translate(568.16 181.9) scale(1 0.93)">b</text>
<rect x="573.29" y="164.5" width="10.26" height="94.8" fill="#fcf0c0" stroke="#2a2a2a" stroke-width="1"/>
<path d="M578.42 158.3V170.4M577.02 158.3h2.8M577.02 170.4h2.8" stroke="#2a2a2a" stroke-width="0.9" fill="none"/>
<text class="lt" transform="translate(578.42 156.8) scale(1 0.93)">a</text>
<text class="xl" transform="translate(568.16 266.8) scale(1 1.07)">35 day</text>
<rect x="433.5" y="146" width="153.9" height="113.3" fill="none" stroke="#2a2a2a" stroke-width="1"/>
<path d="M430.9 259.3H433.5" stroke="#2a2a2a" stroke-width="0.9"/>
<text class="tk" transform="translate(429.6 261.95) scale(1 1.06)">0</text>
<path d="M431.9 245.14H433.5" stroke="#2a2a2a" stroke-width="0.9"/>
<path d="M430.9 230.98H433.5" stroke="#2a2a2a" stroke-width="0.9"/>
<text class="tk" transform="translate(429.6 233.63) scale(1 1.06)">40</text>
<path d="M431.9 216.81H433.5" stroke="#2a2a2a" stroke-width="0.9"/>
<path d="M430.9 202.65H433.5" stroke="#2a2a2a" stroke-width="0.9"/>
<text class="tk" transform="translate(429.6 205.3) scale(1 1.06)">80</text>
<path d="M431.9 188.49H433.5" stroke="#2a2a2a" stroke-width="0.9"/>
<path d="M430.9 174.32H433.5" stroke="#2a2a2a" stroke-width="0.9"/>
<text class="tk" transform="translate(429.6 176.97) scale(1 1.06)">120</text>
<path d="M431.9 160.16H433.5" stroke="#2a2a2a" stroke-width="0.9"/>
<path d="M430.9 146H433.5" stroke="#2a2a2a" stroke-width="0.9"/>
<text class="tk" transform="translate(429.6 148.65) scale(1 1.06)">160</text>
<text class="ti" style="font-size:9.9px" transform="translate(418.6 201.6) rotate(-90)">K (mg/kg)</text>
<text class="pl" transform="translate(401.88 161.93) scale(0.3082 0.2579)">g</text>
<rect x="635.18" y="171.7" width="10.07" height="85.6" fill="#f6dcde" stroke="#2a2a2a" stroke-width="1"/>
<path d="M640.21 170.2V173.1M638.81 170.2h2.8M638.81 173.1h2.8" stroke="#2a2a2a" stroke-width="0.9" fill="none"/>
<text class="lt" transform="translate(640.21 168.7) scale(1 0.93)">a</text>
<rect x="645.25" y="172" width="10.07" height="85.3" fill="#c0c0c0" stroke="#2a2a2a" stroke-width="1"/>
<path d="M650.29 170.7V173.5M648.89 170.7h2.8M648.89 173.5h2.8" stroke="#2a2a2a" stroke-width="0.9" fill="none"/>
<text class="lt" transform="translate(650.29 169.2) scale(1 0.93)">a</text>
<rect x="655.32" y="171.7" width="10.07" height="85.6" fill="#fcf0c0" stroke="#2a2a2a" stroke-width="1"/>
<path d="M660.36 168.1V175.3M658.96 168.1h2.8M658.96 175.3h2.8" stroke="#2a2a2a" stroke-width="0.9" fill="none"/>
<text class="lt" transform="translate(660.36 166.6) scale(1 0.93)">a</text>
<text class="xl" transform="translate(650.29 264.8) scale(1 1.07)">7 day</text>
<rect x="672.95" y="176.3" width="10.07" height="81" fill="#f6dcde" stroke="#2a2a2a" stroke-width="1"/>
<path d="M677.99 175.8V176.8M676.59 175.8h2.8M676.59 176.8h2.8" stroke="#2a2a2a" stroke-width="0.9" fill="none"/>
<text class="lt" transform="translate(677.99 174.3) scale(1 0.93)">b</text>
<rect x="683.03" y="170.2" width="10.07" height="87.1" fill="#c0c0c0" stroke="#2a2a2a" stroke-width="1"/>
<path d="M688.06 168.7V171.7M686.66 168.7h2.8M686.66 171.7h2.8" stroke="#2a2a2a" stroke-width="0.9" fill="none"/>
<text class="lt" transform="translate(688.06 167.2) scale(1 0.93)">a</text>
<rect x="693.1" y="168.3" width="10.07" height="89" fill="#fcf0c0" stroke="#2a2a2a" stroke-width="1"/>
<path d="M698.14 166.9V169.5M696.74 166.9h2.8M696.74 169.5h2.8" stroke="#2a2a2a" stroke-width="0.9" fill="none"/>
<text class="lt" transform="translate(698.14 165.4) scale(1 0.93)">a</text>
<text class="xl" transform="translate(688.06 264.8) scale(1 1.07)">14 day</text>
<rect x="710.73" y="178.7" width="10.07" height="78.6" fill="#f6dcde" stroke="#2a2a2a" stroke-width="1"/>
<path d="M715.76 178V179.6M714.36 178h2.8M714.36 179.6h2.8" stroke="#2a2a2a" stroke-width="0.9" fill="none"/>
<text class="lt" transform="translate(715.76 176.5) scale(1 0.93)">c</text>
<rect x="720.8" y="169.6" width="10.07" height="87.7" fill="#c0c0c0" stroke="#2a2a2a" stroke-width="1"/>
<path d="M725.84 168.1V170.5M724.44 168.1h2.8M724.44 170.5h2.8" stroke="#2a2a2a" stroke-width="0.9" fill="none"/>
<text class="lt" transform="translate(725.84 166.6) scale(1 0.93)">b</text>
<rect x="730.87" y="166.6" width="10.07" height="90.7" fill="#fcf0c0" stroke="#2a2a2a" stroke-width="1"/>
<path d="M735.91 166V167.5M734.51 166h2.8M734.51 167.5h2.8" stroke="#2a2a2a" stroke-width="0.9" fill="none"/>
<text class="lt" transform="translate(735.91 164.5) scale(1 0.93)">a</text>
<text class="xl" transform="translate(725.84 264.8) scale(1 1.07)">21 day</text>
<rect x="748.5" y="178.7" width="10.07" height="78.6" fill="#f6dcde" stroke="#2a2a2a" stroke-width="1"/>
<path d="M753.54 176.3V179.5M752.14 176.3h2.8M752.14 179.5h2.8" stroke="#2a2a2a" stroke-width="0.9" fill="none"/>
<text class="lt" transform="translate(753.54 174.8) scale(1 0.93)">c</text>
<rect x="758.58" y="171.4" width="10.07" height="85.9" fill="#c0c0c0" stroke="#2a2a2a" stroke-width="1"/>
<path d="M763.61 169.3V173.5M762.21 169.3h2.8M762.21 173.5h2.8" stroke="#2a2a2a" stroke-width="0.9" fill="none"/>
<text class="lt" transform="translate(763.61 167.8) scale(1 0.93)">b</text>
<rect x="768.65" y="164.7" width="10.07" height="92.6" fill="#fcf0c0" stroke="#2a2a2a" stroke-width="1"/>
<path d="M773.69 162V166.9M772.29 162h2.8M772.29 166.9h2.8" stroke="#2a2a2a" stroke-width="0.9" fill="none"/>
<text class="lt" transform="translate(773.69 160.5) scale(1 0.93)">a</text>
<text class="xl" transform="translate(763.61 264.8) scale(1 1.07)">35 day</text>
<rect x="631.4" y="145.6" width="151.1" height="111.7" fill="none" stroke="#2a2a2a" stroke-width="1"/>
<path d="M628.8 257.3H631.4" stroke="#2a2a2a" stroke-width="0.9"/>
<text class="tk" transform="translate(627.5 259.95) scale(1 1.06)">0</text>
<path d="M629.8 246.13H631.4" stroke="#2a2a2a" stroke-width="0.9"/>
<path d="M628.8 234.96H631.4" stroke="#2a2a2a" stroke-width="0.9"/>
<text class="tk" transform="translate(627.5 237.61) scale(1 1.06)">2</text>
<path d="M629.8 223.79H631.4" stroke="#2a2a2a" stroke-width="0.9"/>
<path d="M628.8 212.62H631.4" stroke="#2a2a2a" stroke-width="0.9"/>
<text class="tk" transform="translate(627.5 215.27) scale(1 1.06)">4</text>
<path d="M629.8 201.45H631.4" stroke="#2a2a2a" stroke-width="0.9"/>
<path d="M628.8 190.28H631.4" stroke="#2a2a2a" stroke-width="0.9"/>
<text class="tk" transform="translate(627.5 192.93) scale(1 1.06)">6</text>
<path d="M629.8 179.11H631.4" stroke="#2a2a2a" stroke-width="0.9"/>
<path d="M628.8 167.94H631.4" stroke="#2a2a2a" stroke-width="0.9"/>
<text class="tk" transform="translate(627.5 170.59) scale(1 1.06)">8</text>
<path d="M629.8 156.77H631.4" stroke="#2a2a2a" stroke-width="0.9"/>
<path d="M628.8 145.6H631.4" stroke="#2a2a2a" stroke-width="0.9"/>
<text class="tk" transform="translate(627.5 148.25) scale(1 1.06)">10</text>
<text class="ti" style="font-size:9px" transform="translate(618.6 195.3) rotate(-90)">S-SC activity (mg/g·24h)</text>
<text class="pl" transform="translate(598.02 167.70) scale(0.2872 0.2868)">h</text>
<rect x="33.94" y="324.5" width="10.5" height="79.8" fill="#f6dcde" stroke="#2a2a2a" stroke-width="1"/>
<path d="M39.19 323.5V325.5M37.79 323.5h2.8M37.79 325.5h2.8" stroke="#2a2a2a" stroke-width="0.9" fill="none"/>
<text class="lt" transform="translate(39.19 322) scale(1 0.93)">a</text>
<rect x="44.44" y="330.4" width="10.5" height="73.9" fill="#c0c0c0" stroke="#2a2a2a" stroke-width="1"/>
<path d="M49.69 327.5V332.8M48.29 327.5h2.8M48.29 332.8h2.8" stroke="#2a2a2a" stroke-width="0.9" fill="none"/>
<text class="lt" transform="translate(49.69 326) scale(1 0.93)">b</text>
<rect x="54.94" y="330.1" width="10.5" height="74.2" fill="#fcf0c0" stroke="#2a2a2a" stroke-width="1"/>
<path d="M60.19 329.3V331.1M58.79 329.3h2.8M58.79 331.1h2.8" stroke="#2a2a2a" stroke-width="0.9" fill="none"/>
<text class="lt" transform="translate(60.19 327.8) scale(1 0.93)">b</text>
<text class="xl" transform="translate(49.69 411.8) scale(1 1.07)">7 day</text>
<rect x="73.31" y="324.7" width="10.5" height="79.6" fill="#f6dcde" stroke="#2a2a2a" stroke-width="1"/>
<path d="M78.56 323.9V325.5M77.16 323.9h2.8M77.16 325.5h2.8" stroke="#2a2a2a" stroke-width="0.9" fill="none"/>
<text class="lt" transform="translate(78.56 322.4) scale(1 0.93)">ab</text>
<rect x="83.81" y="325.3" width="10.5" height="79" fill="#c0c0c0" stroke="#2a2a2a" stroke-width="1"/>
<path d="M89.06 324.5V326M87.66 324.5h2.8M87.66 326h2.8" stroke="#2a2a2a" stroke-width="0.9" fill="none"/>
<text class="lt" transform="translate(89.06 323) scale(1 0.93)">b</text>
<rect x="94.31" y="321.4" width="10.5" height="82.9" fill="#fcf0c0" stroke="#2a2a2a" stroke-width="1"/>
<path d="M99.56 319.3V323.9M98.16 319.3h2.8M98.16 323.9h2.8" stroke="#2a2a2a" stroke-width="0.9" fill="none"/>
<text class="lt" transform="translate(99.56 317.8) scale(1 0.93)">a</text>
<text class="xl" transform="translate(89.06 411.8) scale(1 1.07)">14 day</text>
<rect x="112.69" y="325.9" width="10.5" height="78.4" fill="#f6dcde" stroke="#2a2a2a" stroke-width="1"/>
<path d="M117.94 324.9V327.3M116.54 324.9h2.8M116.54 327.3h2.8" stroke="#2a2a2a" stroke-width="0.9" fill="none"/>
<text class="lt" transform="translate(117.94 323.4) scale(1 0.93)">c</text>
<rect x="123.19" y="308.3" width="10.5" height="96" fill="#c0c0c0" stroke="#2a2a2a" stroke-width="1"/>
<path d="M128.44 306.9V310.2M127.04 306.9h2.8M127.04 310.2h2.8" stroke="#2a2a2a" stroke-width="0.9" fill="none"/>
<text class="lt" transform="translate(128.44 305.4) scale(1 0.93)">a</text>
<rect x="133.69" y="315.5" width="10.5" height="88.8" fill="#fcf0c0" stroke="#2a2a2a" stroke-width="1"/>
<path d="M138.94 313.5V317.7M137.54 313.5h2.8M137.54 317.7h2.8" stroke="#2a2a2a" stroke-width="0.9" fill="none"/>
<text class="lt" transform="translate(138.94 312) scale(1 0.93)">b</text>
<text class="xl" transform="translate(128.44 411.8) scale(1 1.07)">21 day</text>
<rect x="152.06" y="326.4" width="10.5" height="77.9" fill="#f6dcde" stroke="#2a2a2a" stroke-width="1"/>
<path d="M157.31 324.9V327.6M155.91 324.9h2.8M155.91 327.6h2.8" stroke="#2a2a2a" stroke-width="0.9" fill="none"/>
<text class="lt" transform="translate(157.31 323.4) scale(1 0.93)">b</text>
<rect x="162.56" y="310.5" width="10.5" height="93.8" fill="#c0c0c0" stroke="#2a2a2a" stroke-width="1"/>
<path d="M167.81 307.5V313.5M166.41 307.5h2.8M166.41 313.5h2.8" stroke="#2a2a2a" stroke-width="0.9" fill="none"/>
<text class="lt" transform="translate(167.81 306) scale(1 0.93)">a</text>
<rect x="173.06" y="312.3" width="10.5" height="92" fill="#fcf0c0" stroke="#2a2a2a" stroke-width="1"/>
<path d="M178.31 311.1V313.5M176.91 311.1h2.8M176.91 313.5h2.8" stroke="#2a2a2a" stroke-width="0.9" fill="none"/>
<text class="lt" transform="translate(178.31 309.6) scale(1 0.93)">a</text>
<text class="xl" transform="translate(167.81 411.8) scale(1 1.07)">35 day</text>
<rect x="30" y="288.3" width="157.5" height="116" fill="none" stroke="#2a2a2a" stroke-width="1"/>
<path d="M27.4 404.3H30" stroke="#2a2a2a" stroke-width="0.9"/>
<text class="tk" transform="translate(26.1 406.95) scale(1 1.06)">0</text>
<path d="M28.4 397.05H30" stroke="#2a2a2a" stroke-width="0.9"/>
<path d="M27.4 389.8H30" stroke="#2a2a2a" stroke-width="0.9"/>
<text class="tk" transform="translate(26.1 392.45) scale(1 1.06)">5</text>
<path d="M28.4 382.55H30" stroke="#2a2a2a" stroke-width="0.9"/>
<path d="M27.4 375.3H30" stroke="#2a2a2a" stroke-width="0.9"/>
<text class="tk" transform="translate(26.1 377.95) scale(1 1.06)">10</text>
<path d="M28.4 368.05H30" stroke="#2a2a2a" stroke-width="0.9"/>
<path d="M27.4 360.8H30" stroke="#2a2a2a" stroke-width="0.9"/>
<text class="tk" transform="translate(26.1 363.45) scale(1 1.06)">15</text>
<path d="M28.4 353.55H30" stroke="#2a2a2a" stroke-width="0.9"/>
<path d="M27.4 346.3H30" stroke="#2a2a2a" stroke-width="0.9"/>
<text class="tk" transform="translate(26.1 348.95) scale(1 1.06)">20</text>
<path d="M28.4 339.05H30" stroke="#2a2a2a" stroke-width="0.9"/>
<path d="M27.4 331.8H30" stroke="#2a2a2a" stroke-width="0.9"/>
<text class="tk" transform="translate(26.1 334.45) scale(1 1.06)">25</text>
<path d="M28.4 324.55H30" stroke="#2a2a2a" stroke-width="0.9"/>
<path d="M27.4 317.3H30" stroke="#2a2a2a" stroke-width="0.9"/>
<text class="tk" transform="translate(26.1 319.95) scale(1 1.06)">30</text>
<path d="M28.4 310.05H30" stroke="#2a2a2a" stroke-width="0.9"/>
<path d="M27.4 302.8H30" stroke="#2a2a2a" stroke-width="0.9"/>
<text class="tk" transform="translate(26.1 305.45) scale(1 1.06)">35</text>
<path d="M28.4 295.55H30" stroke="#2a2a2a" stroke-width="0.9"/>
<path d="M27.4 288.3H30" stroke="#2a2a2a" stroke-width="0.9"/>
<text class="tk" transform="translate(26.1 290.95) scale(1 1.06)">40</text>
<text class="ti" style="font-size:10px" transform="translate(16 344.5) rotate(-90)">S-UE activity (mg/g·24h)</text>
<text class="pl b" transform="translate(0.47 308.60) scale(0.2861 0.2767)">i</text>
<rect x="237.84" y="326.9" width="10.51" height="77.3" fill="#f6dcde" stroke="#2a2a2a" stroke-width="1"/>
<path d="M243.09 323.9V329.9M241.69 323.9h2.8M241.69 329.9h2.8" stroke="#2a2a2a" stroke-width="0.9" fill="none"/>
<text class="lt" transform="translate(243.09 322.4) scale(1 0.93)">a</text>
<rect x="248.35" y="331.1" width="10.51" height="73.1" fill="#c0c0c0" stroke="#2a2a2a" stroke-width="1"/>
<path d="M253.6 326.3V335.3M252.2 326.3h2.8M252.2 335.3h2.8" stroke="#2a2a2a" stroke-width="0.9" fill="none"/>
<text class="lt" transform="translate(253.6 324.8) scale(1 0.93)">a</text>
<rect x="258.85" y="331.1" width="10.51" height="73.1" fill="#fcf0c0" stroke="#2a2a2a" stroke-width="1"/>
<path d="M264.11 327.5V334.7M262.71 327.5h2.8M262.71 334.7h2.8" stroke="#2a2a2a" stroke-width="0.9" fill="none"/>
<text class="lt" transform="translate(264.11 326) scale(1 0.93)">a</text>
<text class="xl" transform="translate(253.6 411.7) scale(1 1.07)">7 day</text>
<rect x="277.24" y="340.1" width="10.51" height="64.1" fill="#f6dcde" stroke="#2a2a2a" stroke-width="1"/>
<path d="M282.49 336.3V343.1M281.09 336.3h2.8M281.09 343.1h2.8" stroke="#2a2a2a" stroke-width="0.9" fill="none"/>
<text class="lt" transform="translate(282.49 334.8) scale(1 0.93)">b</text>
<rect x="287.75" y="341.3" width="10.51" height="62.9" fill="#c0c0c0" stroke="#2a2a2a" stroke-width="1"/>
<path d="M293 339.5V343.1M291.6 339.5h2.8M291.6 343.1h2.8" stroke="#2a2a2a" stroke-width="0.9" fill="none"/>
<text class="lt" transform="translate(293 338) scale(1 0.93)">b</text>
<rect x="298.25" y="329.9" width="10.51" height="74.3" fill="#fcf0c0" stroke="#2a2a2a" stroke-width="1"/>
<path d="M303.51 326.9V333.1M302.11 326.9h2.8M302.11 333.1h2.8" stroke="#2a2a2a" stroke-width="0.9" fill="none"/>
<text class="lt" transform="translate(303.51 325.4) scale(1 0.93)">a</text>
<text class="xl" transform="translate(293 411.7) scale(1 1.07)">14 day</text>
<rect x="316.64" y="337.3" width="10.51" height="66.9" fill="#f6dcde" stroke="#2a2a2a" stroke-width="1"/>
<path d="M321.89 330.7V343.4M320.49 330.7h2.8M320.49 343.4h2.8" stroke="#2a2a2a" stroke-width="0.9" fill="none"/>
<text class="lt" transform="translate(321.89 329.2) scale(1 0.93)">b</text>
<rect x="327.15" y="335.3" width="10.51" height="68.9" fill="#c0c0c0" stroke="#2a2a2a" stroke-width="1"/>
<path d="M332.4 334.3V336.4M331 334.3h2.8M331 336.4h2.8" stroke="#2a2a2a" stroke-width="0.9" fill="none"/>
<text class="lt" transform="translate(332.4 332.8) scale(1 0.93)">ab</text>
<rect x="337.65" y="325.9" width="10.51" height="78.3" fill="#fcf0c0" stroke="#2a2a2a" stroke-width="1"/>
<path d="M342.91 321.4V330.4M341.51 321.4h2.8M341.51 330.4h2.8" stroke="#2a2a2a" stroke-width="0.9" fill="none"/>
<text class="lt" transform="translate(342.91 319.9) scale(1 0.93)">a</text>
<text class="xl" transform="translate(332.4 411.7) scale(1 1.07)">21 day</text>
<rect x="356.04" y="331.9" width="10.51" height="72.3" fill="#f6dcde" stroke="#2a2a2a" stroke-width="1"/>
<path d="M361.29 327.5V336.4M359.89 327.5h2.8M359.89 336.4h2.8" stroke="#2a2a2a" stroke-width="0.9" fill="none"/>
<text class="lt" transform="translate(361.29 326) scale(1 0.93)">b</text>
<rect x="366.55" y="327.1" width="10.51" height="77.1" fill="#c0c0c0" stroke="#2a2a2a" stroke-width="1"/>
<path d="M371.8 324.7V329.9M370.4 324.7h2.8M370.4 329.9h2.8" stroke="#2a2a2a" stroke-width="0.9" fill="none"/>
<text class="lt" transform="translate(371.8 323.2) scale(1 0.93)">ab</text>
<rect x="377.05" y="322.9" width="10.51" height="81.3" fill="#fcf0c0" stroke="#2a2a2a" stroke-width="1"/>
<path d="M382.31 318.7V327.5M380.91 318.7h2.8M380.91 327.5h2.8" stroke="#2a2a2a" stroke-width="0.9" fill="none"/>
<text class="lt" transform="translate(382.31 317.2) scale(1 0.93)">a</text>
<text class="xl" transform="translate(371.8 411.7) scale(1 1.07)">35 day</text>
<rect x="233.9" y="288.4" width="157.6" height="115.8" fill="none" stroke="#2a2a2a" stroke-width="1"/>
<path d="M231.3 404.2H233.9" stroke="#2a2a2a" stroke-width="0.9"/>
<text class="tk" transform="translate(230 406.85) scale(1 1.06)">0.0</text>
<path d="M232.3 395.93H233.9" stroke="#2a2a2a" stroke-width="0.9"/>
<path d="M231.3 387.66H233.9" stroke="#2a2a2a" stroke-width="0.9"/>
<text class="tk" transform="translate(230 390.31) scale(1 1.06)">0.5</text>
<path d="M232.3 379.39H233.9" stroke="#2a2a2a" stroke-width="0.9"/>
<path d="M231.3 371.11H233.9" stroke="#2a2a2a" stroke-width="0.9"/>
<text class="tk" transform="translate(230 373.76) scale(1 1.06)">1.0</text>
<path d="M232.3 362.84H233.9" stroke="#2a2a2a" stroke-width="0.9"/>
<path d="M231.3 354.57H233.9" stroke="#2a2a2a" stroke-width="0.9"/>
<text class="tk" transform="translate(230 357.22) scale(1 1.06)">1.5</text>
<path d="M232.3 346.3H233.9" stroke="#2a2a2a" stroke-width="0.9"/>
<path d="M231.3 338.03H233.9" stroke="#2a2a2a" stroke-width="0.9"/>
<text class="tk" transform="translate(230 340.68) scale(1 1.06)">2.0</text>
<path d="M232.3 329.76H233.9" stroke="#2a2a2a" stroke-width="0.9"/>
<path d="M231.3 321.49H233.9" stroke="#2a2a2a" stroke-width="0.9"/>
<text class="tk" transform="translate(230 324.14) scale(1 1.06)">2.5</text>
<path d="M232.3 313.21H233.9" stroke="#2a2a2a" stroke-width="0.9"/>
<path d="M231.3 304.94H233.9" stroke="#2a2a2a" stroke-width="0.9"/>
<text class="tk" transform="translate(230 307.59) scale(1 1.06)">3.0</text>
<path d="M232.3 296.67H233.9" stroke="#2a2a2a" stroke-width="0.9"/>
<path d="M231.3 288.4H233.9" stroke="#2a2a2a" stroke-width="0.9"/>
<text class="tk" transform="translate(230 291.05) scale(1 1.06)">3.5</text>
<text class="ti" style="font-size:10.05px" transform="translate(218.5 345.9) rotate(-90)">S-PRO activity (mg/g)</text>
<text class="pl" transform="translate(201.94 308.30) scale(0.3262 0.2914)">j</text>
<rect x="457.6" y="356.6" width="29.9" height="14.5" rx="1.2" fill="#f6dcde" stroke="#111" stroke-width="1.0"/>
<text x="492.5" y="368.8" class="lg">CK</text>
<rect x="514.3" y="356.6" width="29.9" height="14.5" rx="1.2" fill="#c0c0c0" stroke="#111" stroke-width="1.0"/>
<text x="549.3" y="368.8" class="lg">IPC FS</text>
<rect x="590.4" y="356.6" width="29.9" height="14.5" rx="1.2" fill="#fcf0c0" stroke="#111" stroke-width="1.0"/>
<text x="625.1" y="368.8" class="lg" textLength="100.6" lengthAdjust="spacingAndGlyphs">IPC@UiO-66-TA-Zn</text>
<text x="727.1" y="361.8" class="lg" style="font-size:5.6px">II</text>
<text x="734.7" y="368.8" class="lg" textLength="19.3" lengthAdjust="spacingAndGlyphs">NFS</text>
</svg>
</body></html>
